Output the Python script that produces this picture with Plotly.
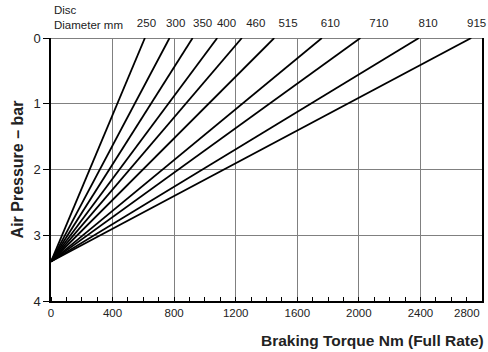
import plotly.graph_objects as go

# disc diameters (mm) and the torque where each line meets 0 bar
diameters = [250, 300, 350, 400, 460, 515, 610, 710, 810, 915]
torque_at_zero_bar = [610, 770, 920, 1080, 1240, 1450, 1760, 2010, 2390, 2730]
apex_pressure = 3.4  # all lines start here at zero torque

# torque positions of the diameter labels on the top scale
label_torque = [620, 810, 985, 1140, 1330, 1540, 1815, 2130, 2450, 2765]

x_ticks = [0, 400, 800, 1200, 1600, 2000, 2400, 2800]
y_ticks = [0, 1, 2, 3, 4]

FONT = "Liberation Sans, Arial, sans-serif"
TXT = "#222222"
GRID = "#808080"

fig = go.Figure()

for d, t in zip(diameters, torque_at_zero_bar):
    fig.add_trace(go.Scatter(x=[0, t], y=[apex_pressure, 0], mode="lines",
                             line=dict(color="black", width=1.8),
                             name=f"{d} mm", showlegend=False, hoverinfo="skip"))

# invisible trace to carry the top (disc diameter) axis
fig.add_trace(go.Scatter(x=label_torque, y=[0] * len(label_torque), xaxis="x2",
                         mode="markers", marker=dict(opacity=0),
                         showlegend=False, hoverinfo="skip"))

fig.update_layout(
    width=488, height=352,
    margin=dict(l=51, r=6, t=38, b=51),
    paper_bgcolor="white", plot_bgcolor="white",
    font=dict(family=FONT, size=11.5, color=TXT),
    xaxis=dict(range=[0, 2800], tickvals=x_ticks, automargin=False,
               ticktext=[str(v) for v in x_ticks[:-1]] + [""],
               showgrid=True, gridcolor=GRID, gridwidth=1,
               showline=True, linecolor="black", linewidth=1.5,
               ticks="", zeroline=False,
               minor=dict(ticks="inside", dtick=100, ticklen=4,
                          tickcolor="black", showgrid=False)),
    xaxis2=dict(range=[0, 2800], overlaying="x", side="top", automargin=False,
                tickvals=label_torque, ticktext=[str(d) for d in diameters],
                showgrid=False, showline=False, zeroline=False,
                ticks="outside", ticklen=5, tickcolor="rgba(0,0,0,0)"),
    yaxis=dict(range=[4, 0], tickvals=y_ticks, automargin=False,
               showgrid=True, gridcolor=GRID, gridwidth=1,
               zeroline=True, zerolinecolor=GRID, zerolinewidth=1,
               showline=True, linecolor="black", linewidth=1.5, mirror=True,
               ticks="outside", ticklen=6, tickcolor="black",
               tickfont=dict(size=13),
               title=dict(text="Air Pressure – bar", standoff=6,
                          font=dict(family=FONT, size=16, color=TXT,
                                    weight="bold"))),
)

fig.add_annotation(text="Disc<br>Diameter mm", xref="paper", yref="paper",
                   x=0, y=1, xanchor="left", yanchor="bottom", align="left",
                   xshift=1, yshift=5, showarrow=False,
                   font=dict(family=FONT, size=11.5, color=TXT))

fig.add_annotation(text=str(x_ticks[-1]), xref="x", yref="paper",
                   x=x_ticks[-1], y=0, xanchor="right", yanchor="top",
                   yshift=-4, showarrow=False,
                   font=dict(family=FONT, size=11.5, color=TXT))

fig.add_annotation(text="<b>Braking Torque Nm (Full Rate)</b>", xref="paper",
                   yref="paper", x=1, y=0, xanchor="right", yanchor="top",
                   xshift=4, yshift=-29, showarrow=False,
                   font=dict(family=FONT, size=15.5, color=TXT))

fig.write_html("out.html", config={"displayModeBar": False},
               post_script="document.body.style.margin='0';")
